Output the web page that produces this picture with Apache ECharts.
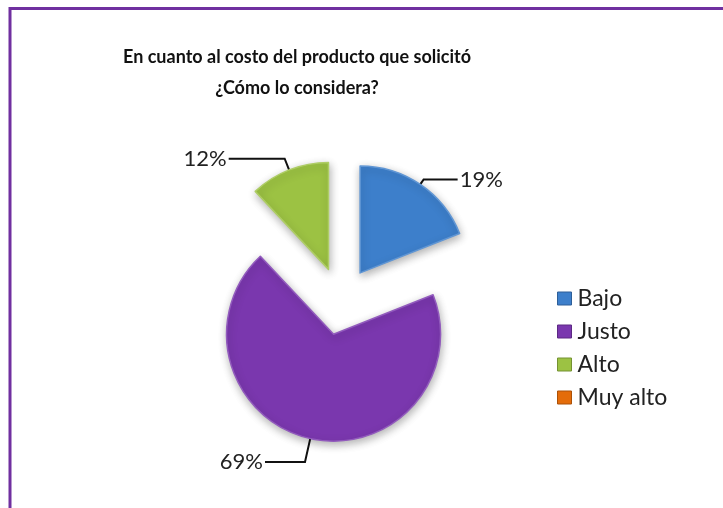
<!DOCTYPE html>
<html>
<head>
<meta charset="utf-8">
<script src="https://cdn.jsdelivr.net/npm/echarts@6/dist/echarts.min.js"></script>
<style>
  html, body { margin: 0; padding: 0; background: #ffffff; }
  #chart { width: 723px; height: 508px; }
</style>
</head>
<body>
<div id="chart"></div>
<script>
// Survey answers: perceived cost of the requested product
const categories = ['Bajo', 'Justo', 'Alto', 'Muy alto'];
const shares = [19, 69, 12, 0];
const sliceColors = ['#3d7fcb', '#7a37ae', '#9cc243', '#e46c0a'];
const titleLines = ['En cuanto al costo del producto que solicitó', '¿Cómo lo considera?'];

// per-slice leader line lengths (radial part, horizontal part)
const leaderLengths = [[6, 34], [24, 40], [12, 56], [0, 0]];

const FONT = 'Lato, "Open Sans", "DejaVu Sans", sans-serif';

function shade(hex, amt) {
  const n = parseInt(hex.slice(1), 16);
  let r = (n >> 16) & 255, g = (n >> 8) & 255, b = n & 255;
  const f = v => Math.max(0, Math.min(255, Math.round(v + amt * (amt > 0 ? 255 - v : v))));
  return 'rgb(' + f(r) + ',' + f(g) + ',' + f(b) + ')';
}

const pieData = categories.map((name, i) => {
  const empty = shares[i] === 0;
  const item = {
    name: name,
    value: shares[i],
    selected: !empty,
    itemStyle: {
      color: sliceColors[i],
      borderColor: shade(sliceColors[i], 0.18),
      borderWidth: empty ? 0 : 1.5,
      shadowBlur: empty ? 0 : 8
    },
    labelLine: { length: leaderLengths[i][0], length2: leaderLengths[i][1] }
  };
  if (empty) {
    item.label = { show: false };
    item.labelLine = { show: false };
  }
  return item;
});

const chart = echarts.init(document.getElementById('chart'), null, { renderer: 'canvas' });

chart.setOption({
  animation: false,
  backgroundColor: '#ffffff',
  title: {
    text: titleLines.join('\n'),
    left: 292,
    textAlign: 'center',
    top: 37,
    textStyle: {
      fontFamily: FONT,
      fontWeight: 'bold',
      fontSize: 18,
      lineHeight: 31,
      color: '#111111'
    }
  },
  legend: {
    orient: 'vertical',
    left: 557,
    top: 287,
    padding: 0,
    itemWidth: 14,
    itemHeight: 13,
    itemGap: 10,
    icon: 'rect',
    data: categories.map((name, i) => ({
      name: name,
      itemStyle: { color: sliceColors[i], borderColor: shade(sliceColors[i], -0.25), borderWidth: 1 }
    })),
    selectedMode: false,
    textStyle: { fontFamily: FONT, fontSize: 23, color: '#222222', padding: [0, 0, 0, 1] }
  },
  graphic: [
    {
      type: 'polyline',
      shape: { points: [[10, 508], [10, 8.5], [723, 8.5]] },
      style: { stroke: '#7030a0', lineWidth: 3, fill: null },
      z: 10
    }
  ],
  series: [
    {
      type: 'pie',
      center: [341, 301],
      radius: [0, 107],
      startAngle: 90,
      clockwise: true,
      selectedMode: 'multiple',
      selectedOffset: 34,
      avoidLabelOverlap: false,
      emphasis: { disabled: true },
      itemStyle: {
        shadowColor: 'rgba(0,0,0,0.3)',
        shadowOffsetX: 1,
        shadowOffsetY: 3
      },
      label: {
        show: true,
        formatter: p => p.value + '%',
        fontFamily: FONT,
        fontSize: 22,
        color: '#222222',
        distanceToLabelLine: 2
      },
      labelLine: {
        show: true,
        lineStyle: { color: '#111111', width: 2 }
      },
      data: pieData
    }
  ]
});
</script>
</body>
</html>
